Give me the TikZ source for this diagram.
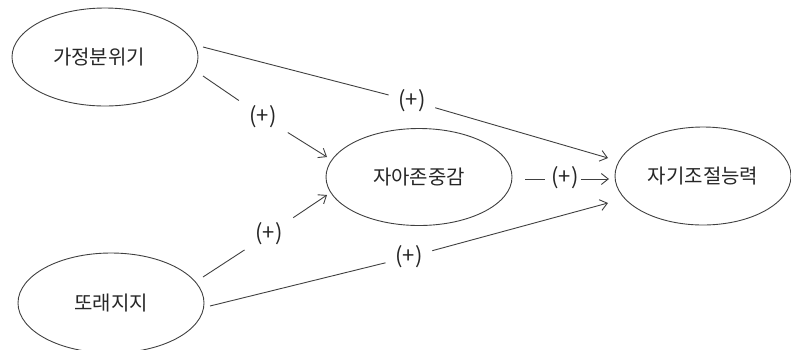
\documentclass[tikz,border=0pt]{standalone}
\usepackage{fontspec}
\setmainfont{Noto Sans CJK KR}
\usetikzlibrary{shapes.geometric,arrows.meta}
\begin{document}
\begin{tikzpicture}[x=1pt,y=-1pt,
  every node/.style={font=\fontsize{20}{22}\selectfont, text=black!85},
  latent/.style={ellipse, draw=black!75, line width=0.9pt, inner sep=0pt},
  conn/.style={draw=black!75, line width=0.9pt},
  arr/.style={conn, -{Straight Barb[length=7pt,width=11pt,line width=0.9pt]}},
  sign/.style={circle, inner sep=0pt, minimum size=#1, font=\fontsize{22}{24}\selectfont},
  sign/.default=54pt]
\useasboundingbox (0,0) rectangle (791,349);
\node[latent, minimum width=186pt, minimum height=98pt] (A) at (105,57) {\hspace*{-12pt}가정분위기};
\node[latent, minimum width=186pt, minimum height=100pt] (B) at (111,303) {또래지지};
\node[latent, minimum width=186pt, minimum height=97pt] (C) at (419,177) {자아존중감};
\node[latent, minimum width=176pt, minimum height=98pt] (D) at (703,176) {자기조절능력};
% endpoints
\coordinate (a1) at (203,47);
\coordinate (d1) at (608,158);
\coordinate (a2) at (203,76);
\coordinate (c1) at (327,157);
\coordinate (b1) at (203,277);
\coordinate (c2) at (327,195);
\coordinate (b2) at (210,306);
\coordinate (d2) at (608,203);
\coordinate (c3) at (525,179);
\coordinate (d3) at (609,179);
% labels
\node[sign=48pt] (l1) at (412,101) {(+)};
\node[sign=58pt] (l2) at (263,117) {(+)};
\node[sign=58pt] (l3) at (269,234) {(+)};
\node[sign=48pt] (l4) at (409,257) {(+)};
\node[sign=10pt, rectangle, inner sep=2pt] (l5) at (565,178) {(+)};
% connectors
\draw[conn] (a1) -- (l1);
\draw[arr] (l1) -- (d1);
\draw[conn] (a2) -- (l2);
\draw[arr] (l2) -- (c1);
\draw[conn] (b1) -- (l3);
\draw[arr] (l3) -- (c2);
\draw[conn] (b2) -- (l4);
\draw[arr] (l4) -- (d2);
\draw[conn] (c3) -- ++(20,0) coordinate (c3e);
\draw[arr] (l5.east |- d3) -- (d3);
\end{tikzpicture}
\end{document}
